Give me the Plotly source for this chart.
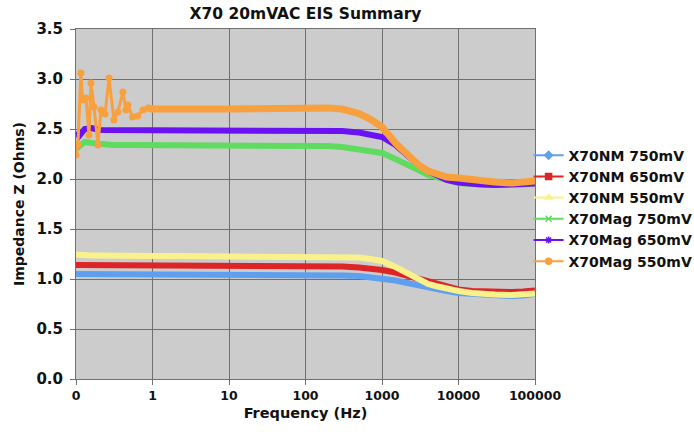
import plotly.graph_objects as go

# ---- data ----
FREQ = [0.1, 0.11, 0.13, 0.16, 0.2, 0.3, 0.5, 0.7, 1,
        2, 3, 5, 10, 20, 50, 100, 200,
        300, 500, 700, 1000,
        1500, 2000, 3000, 4000, 5000, 7000, 10000,
        15000, 20000, 30000, 50000, 70000, 100000]

NM_750 = [1.05, 1.05, 1.05, 1.05, 1.05, 1.05, 1.05, 1.05, 1.05,
          1.04, 1.04, 1.04, 1.04, 1.04, 1.04, 1.04, 1.04,
          1.035, 1.03, 1.02, 1.01,
          0.985, 0.965, 0.935, 0.91, 0.90, 0.88, 0.86,
          0.85, 0.84, 0.835, 0.83, 0.835, 0.85]

NM_650 = [1.14, 1.14, 1.14, 1.14, 1.14, 1.14, 1.14, 1.14, 1.14,
          1.13, 1.13, 1.13, 1.13, 1.13, 1.13, 1.13, 1.13,
          1.125, 1.115, 1.105, 1.09,
          1.065, 1.04, 1.00, 0.97, 0.955, 0.92, 0.895,
          0.88, 0.875, 0.87, 0.87, 0.875, 0.885]

NM_550 = [1.245, 1.24, 1.24, 1.235, 1.235, 1.23, 1.23, 1.23, 1.23,
          1.23, 1.23, 1.23, 1.23, 1.23, 1.23, 1.23, 1.23,
          1.225, 1.215, 1.20, 1.18,
          1.12, 1.07, 1.00, 0.95, 0.93, 0.90, 0.88,
          0.86, 0.85, 0.845, 0.84, 0.845, 0.855]

MAG_750 = [2.30, 2.33, 2.37, 2.36, 2.35, 2.34, 2.34, 2.34, 2.34,
           2.34, 2.34, 2.34, 2.34, 2.34, 2.335, 2.335, 2.33,
           2.32, 2.30, 2.28, 2.26,
           2.20, 2.16, 2.09, 2.04, 2.02, 1.99, 1.96,
           1.95, 1.945, 1.94, 1.94, 1.945, 1.955]

MAG_650 = [2.47, 2.43, 2.50, 2.51, 2.49, 2.49, 2.49, 2.49, 2.49,
           2.49, 2.49, 2.49, 2.49, 2.495, 2.495, 2.495, 2.49,
           2.48, 2.465, 2.45, 2.42,
           2.34, 2.26, 2.14, 2.08, 2.04, 1.99, 1.965,
           1.95, 1.945, 1.94, 1.94, 1.945, 1.955]

MAG_550_FREQ = [0.1, 0.106, 0.116, 0.122, 0.135, 0.148, 0.157, 0.172, 0.194,
                0.212, 0.24, 0.27, 0.313, 0.353, 0.41, 0.45, 0.477, 0.55,
                0.64, 0.75, 0.87,
                1, 2, 3, 5, 10, 20, 50, 100, 200,
                300, 500, 700, 1000,
                1500, 2000, 3000, 4000, 5000, 7000, 10000,
                15000, 20000, 30000, 50000, 70000, 100000]

MAG_550 = [2.24, 2.34, 3.06, 2.79, 2.81, 2.44, 2.96, 2.72, 2.34,
           2.69, 2.65, 3.01, 2.59, 2.67, 2.87, 2.69, 2.74, 2.62,
           2.63, 2.69, 2.71,
           2.70, 2.70, 2.695, 2.70, 2.70, 2.705, 2.71, 2.715, 2.71,
           2.70, 2.655, 2.60, 2.52,
           2.36, 2.27, 2.14, 2.08, 2.05, 2.02, 2.01,
           1.99, 1.98, 1.97, 1.96, 1.965, 1.98]

# number of noisy low-frequency points of the orange series (drawn thin, with dots)
MAG_550_NOISY = 21

X_TICKS = [0.1, 1, 10, 100, 1000, 10000, 100000]
X_TICK_TEXT = ["0", "1", "10", "100", "1000", "10000", "100000"]
Y_TICKS = [0.0, 0.5, 1.0, 1.5, 2.0, 2.5, 3.0, 3.5]

SERIES = [
    ("X70NM 750mV", FREQ, NM_750, "#5f9ff0", "diamond"),
    ("X70NM 650mV", FREQ, NM_650, "#dd2426", "square"),
    ("X70NM 550mV", FREQ, NM_550, "#f9f28c", "triangle-up"),
    ("X70Mag 750mV", FREQ, MAG_750, "#5fdc5f", "x-thin"),
    ("X70Mag 650mV", FREQ, MAG_650, "#6a12f2", "asterisk"),
    ("X70Mag 550mV", MAG_550_FREQ, MAG_550, "#f9a03e", "circle"),
]

FONT = "DejaVu Sans"

fig = go.Figure()
for name, fx, fy, color, sym in SERIES:
    if name == "X70Mag 550mV":
        n = MAG_550_NOISY
        fig.add_trace(go.Scatter(
            x=fx[:n + 1], y=fy[:n + 1], name=name, legendgroup=name,
            showlegend=False, mode="lines+markers",
            line=dict(color=color, width=3),
            marker=dict(color=color, size=7, symbol=sym),
            hoverinfo="skip",
        ))
        fig.add_trace(go.Scatter(
            x=fx[n - 1:], y=fy[n - 1:], name=name, legendgroup=name,
            showlegend=False, mode="lines",
            line=dict(color=color, width=7),
            hoverinfo="skip",
        ))
    else:
        fig.add_trace(go.Scatter(
            x=fx, y=fy, name=name, legendgroup=name, showlegend=False,
            mode="lines",
            line=dict(color=color, width=6),
            hoverinfo="skip",
        ))
for name, fx, fy, color, sym in SERIES:
    fig.add_trace(go.Scatter(
        x=[None], y=[None], name=name, legendgroup=name, showlegend=True,
        mode="lines+markers",
        line=dict(color=color, width=2),
        marker=dict(color=color, size=6, symbol=sym,
                    line=dict(color=color, width=1.5)),
    ))

fig.update_layout(
    width=694, height=432,
    margin=dict(l=76, r=159, t=29, b=53, autoexpand=False),
    paper_bgcolor="white",
    plot_bgcolor="#cccccc",
    font=dict(family=FONT, color="#111111", size=12, weight="bold"),
    title=dict(text="X70 20mVAC EIS Summary", x=0.5, xref="paper",
               y=1 - 14 / 432, yref="container", yanchor="middle",
               font=dict(family=FONT, size=15.5, weight="bold", color="#111111")),
    showlegend=True,
    legend=dict(x=0.986, xanchor="left", y=0.684, yanchor="top",
                bgcolor="rgba(0,0,0,0)", itemwidth=30,
                font=dict(family=FONT, size=14, weight="bold", color="#111111"),
                tracegroupgap=0),
)

fig.update_xaxes(
    type="log", range=[-1, 5],
    tickvals=X_TICKS, ticktext=X_TICK_TEXT,
    showgrid=True, gridcolor="#707070", gridwidth=1,
    showline=True, linecolor="#707070", linewidth=1, mirror=True,
    ticks="outside", ticklen=5, tickcolor="#707070",
    tickfont=dict(family=FONT, size=12.5, weight="bold"),
    title=dict(text="Frequency (Hz)", standoff=5,
               font=dict(family=FONT, size=14.5, weight="bold")),
    zeroline=False,
)
fig.update_yaxes(
    range=[0, 3.5], tickvals=Y_TICKS, tickformat=".1f",
    showgrid=True, gridcolor="#707070", gridwidth=1,
    showline=True, linecolor="#707070", linewidth=1, mirror=True,
    ticks="outside", ticklen=5, tickcolor="#707070", ticklabelstandoff=4,
    tickfont=dict(family=FONT, size=15, weight="bold"),
    title=dict(text="Impedance Z (Ohms)", standoff=8,
               font=dict(family=FONT, size=14, weight="bold")),
    zeroline=False,
)

fig.write_html("out.html")
